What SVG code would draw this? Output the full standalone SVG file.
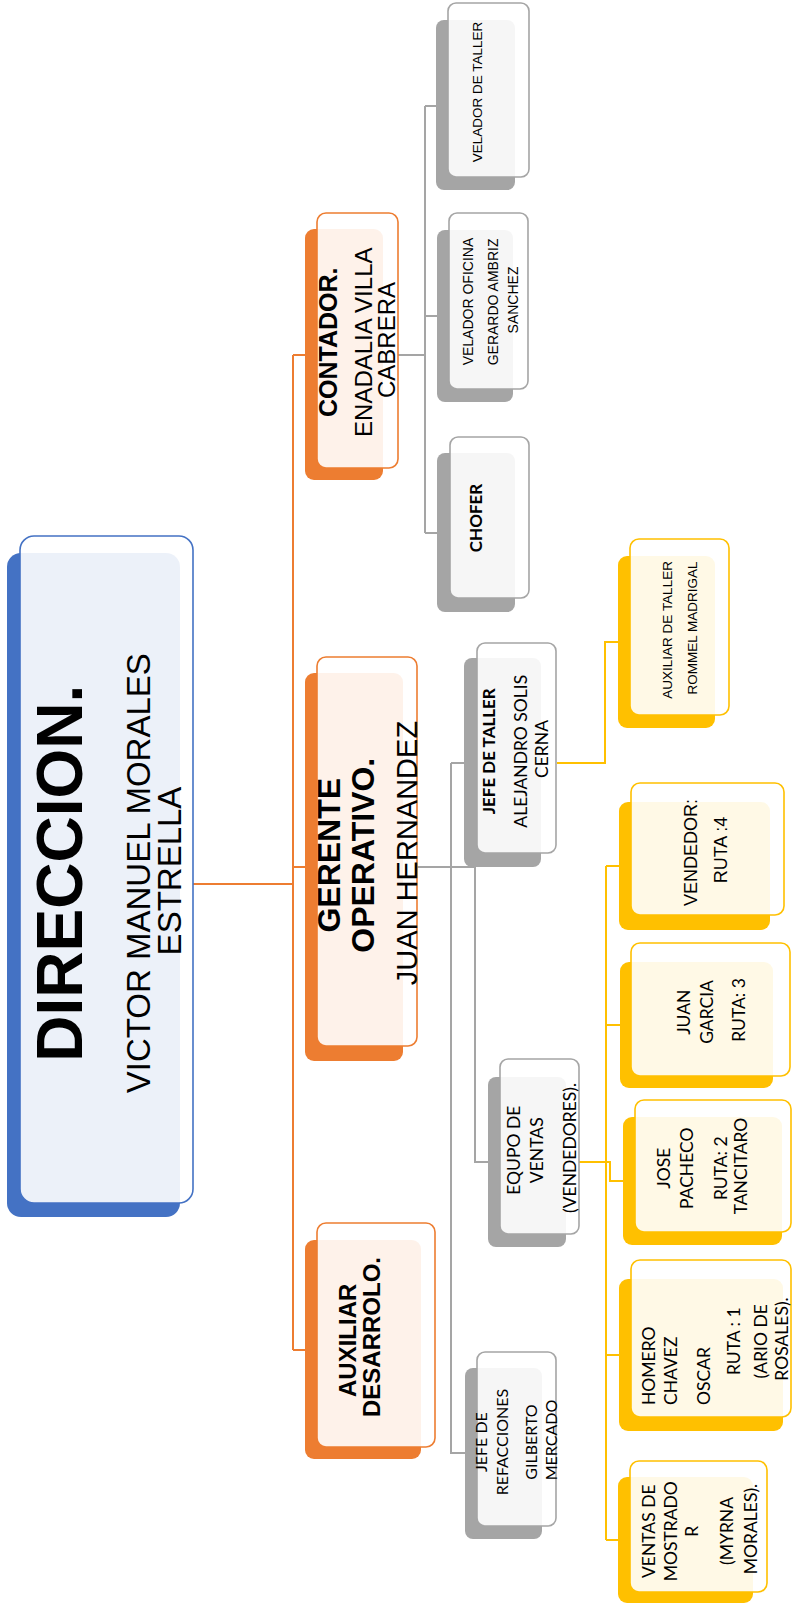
<svg xmlns="http://www.w3.org/2000/svg" width="793" height="1606" viewBox="0 0 793 1606">
<style>
.bg{fill:#ffffff}
.bb{fill:#4472C4}.bo{fill:#ED7D31}.bg2{fill:#A5A5A5}.by{fill:#FFC000}
.fr{fill:#ffffff;fill-opacity:0.9;stroke-width:1.6}
.sb{stroke:#4472C4}.so{stroke:#ED7D31}.sg{stroke:#A5A5A5}.sy{stroke:#FFC000}
.ar{font-family:"Liberation Sans",Arial,sans-serif;fill:#000}
.ca{font-family:Lato,"Liberation Sans",sans-serif;fill:#000}
.cn{fill:none;stroke-width:2}
</style>
<rect class="bg" x="0" y="0" width="793" height="1606"/>
<g id="connectors">
<path class="cn so" d="M193,884 H293 M293,355 V1350 M293,355 H305 M293,867 H305 M293,1350 H305"/>
<path class="cn sg" d="M398,355 H425 M425,106 V533 M425,106 H436 M425,316 H437 M425,533 H437 M417,867 H475 V1162 H488 M451,867 V1453 H465 M451,763 V867 M451,763 H464"/>
<path class="cn sy" d="M557,763 H605 V642 H618 M579,1162 H610 V1181 H623 M606,866 V1540 M606,866 H619 M606,1025 H620 M606,1355 H619 M606,1540 H618"/>
</g>
<g id="direccion">
<rect class="bb" x="7" y="553" width="173" height="664" rx="14"/>
<rect class="fr sb" x="20" y="536" width="173" height="667" rx="14"/>
<text class="ar" transform="rotate(-90)" text-anchor="middle">
<tspan x="-871" y="82" font-size="64" font-weight="bold">DIRECCION.</tspan>
<tspan x="-871" y="150" font-size="33">VICTOR MANUEL MORALES</tspan>
<tspan x="-871" y="181" font-size="33">ESTRELLA</tspan>
</text>
</g>
<g id="contador">
<rect class="bo" x="305" y="229" width="78" height="251" rx="9"/>
<rect class="fr so" x="317" y="213" width="81" height="255" rx="9"/>
<text class="ar" transform="rotate(-90)" text-anchor="middle">
<tspan x="-340" y="337" font-size="25" font-weight="bold">CONTADOR.</tspan>
<tspan x="-340" y="372" font-size="24">ENADALIA VILLA</tspan>
<tspan x="-340" y="395" font-size="24">CABRERA</tspan>
</text>
</g>
<g id="gerente">
<rect class="bo" x="305" y="673" width="98" height="388" rx="9"/>
<rect class="fr so" x="317" y="657" width="100" height="389" rx="9"/>
<text class="ar" transform="rotate(-90)" text-anchor="middle">
<tspan x="-853" y="340" font-size="32" font-weight="bold">GERENTE</tspan>
<tspan x="-853" y="374" font-size="32" font-weight="bold">OPERATIVO.</tspan>
<tspan x="-853" y="417" font-size="29">JUAN HERNANDEZ</tspan>
</text>
</g>
<g id="auxiliar-desarrolo">
<rect class="bo" x="305" y="1240" width="116" height="219" rx="9"/>
<rect class="fr so" x="317" y="1223" width="118" height="224" rx="9"/>
<text class="ar" transform="rotate(-90)" text-anchor="middle" font-weight="bold" font-size="24">
<tspan x="-1337" y="356">AUXILIAR</tspan>
<tspan x="-1337" y="380">DESARROLO.</tspan>
</text>
</g>
<g id="velador-taller">
<rect class="bg2" x="436" y="20" width="79" height="170" rx="8"/>
<rect class="fr sg" x="448" y="3" width="81" height="174" rx="8"/>
<text class="ar" transform="rotate(-90)" text-anchor="middle" font-size="13.5">
<tspan x="-92" y="482">VELADOR DE TALLER</tspan>
</text>
</g>
<g id="velador-oficina">
<rect class="bg2" x="437" y="230" width="76" height="172" rx="8"/>
<rect class="fr sg" x="449" y="213" width="79" height="176" rx="8"/>
<text class="ar" transform="rotate(-90)" text-anchor="middle" font-size="14">
<tspan x="-300" y="473">VELADOR OFICINA</tspan>
<tspan x="-300" y="498">GERARDO AMBRIZ</tspan>
<tspan x="-300" y="518">SANCHEZ</tspan>
</text>
</g>
<g id="chofer">
<rect class="bg2" x="437" y="453" width="78" height="159" rx="8"/>
<rect class="fr sg" x="450" y="437" width="79" height="161" rx="8"/>
<text class="ca" transform="rotate(-90)" text-anchor="middle" font-size="17" font-weight="bold">
<tspan x="-518" y="482">CHOFER</tspan>
</text>
</g>
<g id="jefe-taller">
<rect class="bg2" x="464" y="658" width="77" height="209" rx="8"/>
<rect class="fr sg" x="477" y="643" width="79" height="210" rx="8"/>
<text class="ca" transform="rotate(-90)" text-anchor="middle" font-size="17.5">
<tspan x="-749" y="495" font-weight="bold" font-size="17">JEFE DE TALLER</tspan>
<tspan x="-749" y="527">ALEJANDRO SOLIS</tspan>
<tspan x="-749" y="548">CERNA</tspan>
</text>
</g>
<g id="equipo-ventas">
<rect class="bg2" x="488" y="1077" width="78" height="170" rx="8"/>
<rect class="fr sg" x="500" y="1059" width="79" height="175" rx="8"/>
<text class="ca" transform="rotate(-90)" text-anchor="middle" font-size="17.5">
<tspan x="-1148" y="520">EQUPO DE</tspan>
<tspan x="-1148" y="543">VENTAS</tspan>
<tspan x="-1148" y="576">(VENDEDORES).</tspan>
</text>
</g>
<g id="jefe-refacciones">
<rect class="bg2" x="465" y="1368" width="77" height="171" rx="8"/>
<rect class="fr sg" x="477" y="1352" width="79" height="174" rx="8"/>
<text class="ca" transform="rotate(-90)" text-anchor="middle" font-size="16">
<tspan x="-1440" y="487">JEFE DE</tspan>
<tspan x="-1440" y="508">REFACCIONES</tspan>
<tspan x="-1440" y="537">GILBERTO</tspan>
<tspan x="-1440" y="557">MERCADO</tspan>
</text>
</g>
<g id="auxiliar-taller">
<rect class="by" x="618" y="556" width="97" height="172" rx="9"/>
<rect class="fr sy" x="630" y="539" width="99" height="176" rx="9"/>
<text class="ar" transform="rotate(-90)" text-anchor="middle" font-size="13.5">
<tspan x="-628" y="672">AUXILIAR DE TALLER</tspan>
<tspan x="-628" y="697">ROMMEL MADRIGAL</tspan>
</text>
</g>
<g id="vendedor-ruta4">
<rect class="by" x="619" y="802" width="151" height="128" rx="9"/>
<rect class="fr sy" x="631" y="783" width="153" height="132" rx="9"/>
<text class="ar" transform="rotate(-90)" text-anchor="middle" font-size="18">
<tspan x="-850" y="697">VENDEDOR:</tspan>
<tspan x="-850" y="727">RUTA :4</tspan>
</text>
</g>
<g id="juan-garcia">
<rect class="by" x="620" y="962" width="153" height="126" rx="9"/>
<rect class="fr sy" x="631" y="943" width="159" height="133" rx="9"/>
<text class="ca" transform="rotate(-90)" text-anchor="middle" font-size="17.5">
<tspan x="-1010" y="690">JUAN</tspan>
<tspan x="-1010" y="713">GARCIA</tspan>
<tspan x="-1010" y="745">RUTA: 3</tspan>
</text>
</g>
<g id="jose-pacheco">
<rect class="by" x="623" y="1117" width="159" height="128" rx="9"/>
<rect class="fr sy" x="635" y="1100" width="156" height="132" rx="9"/>
<text class="ca" transform="rotate(-90)" text-anchor="middle" font-size="17.5">
<tspan x="-1166" y="670">JOSE</tspan>
<tspan x="-1166" y="693">PACHECO</tspan>
<tspan x="-1166" y="727">RUTA: 2</tspan>
<tspan x="-1166" y="747">TANCITARO</tspan>
</text>
</g>
<g id="homero-chavez">
<rect class="by" x="619" y="1279" width="164" height="152" rx="9"/>
<rect class="fr sy" x="631" y="1260" width="160" height="157" rx="9"/>
<text class="ca" transform="rotate(-90)" font-size="17.5">
<tspan x="-1405" y="655">HOMERO</tspan>
<tspan x="-1405" y="677">CHAVEZ</tspan>
<tspan x="-1405" y="710">OSCAR</tspan>
</text>
<text class="ca" transform="rotate(-90)" text-anchor="middle" font-size="17.5">
<tspan x="-1339" y="740">RUTA : 1</tspan>
<tspan x="-1339" y="767">(ARIO DE</tspan>
<tspan x="-1339" y="788">ROSALES).</tspan>
</text>
</g>
<g id="ventas-mostrador">
<rect class="by" x="618" y="1477" width="135" height="126" rx="9"/>
<rect class="fr sy" x="630" y="1461" width="137" height="131" rx="9"/>
<text class="ca" transform="rotate(-90)" text-anchor="middle" font-size="17.5">
<tspan x="-1529" y="655">VENTAS DE</tspan>
<tspan x="-1529" y="677">MOSTRADO</tspan>
<tspan x="-1529" y="698">R</tspan>
<tspan x="-1529" y="733">(MYRNA</tspan>
<tspan x="-1529" y="757">MORALES).</tspan>
</text>
</g>
</svg>
